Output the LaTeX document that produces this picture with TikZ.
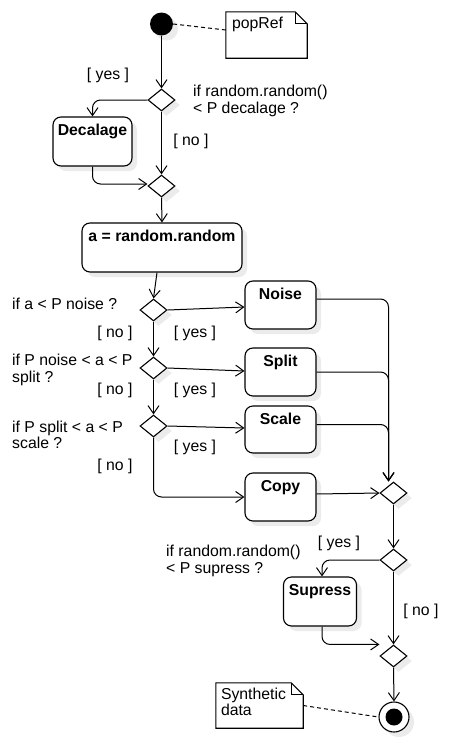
\documentclass[tikz,border=0pt]{standalone}
\usepackage{fontspec}
\setmainfont{Liberation Sans}
\usetikzlibrary{shapes.geometric,arrows.meta,shadows}
\begin{document}
\begin{tikzpicture}[x=1pt,y=-1pt,
  every node/.style={font=\fontsize{15.8}{16.5}\selectfont, text=black},
  shade/.style={drop shadow={shadow xshift=5pt,shadow yshift=-5pt,fill=black!8,opacity=1}},
  actbox/.style={draw, line width=1.1pt, rounded corners=8pt, fill=white, shade, inner sep=0pt},
  boxlabel/.style={anchor=north, yshift=-4pt, font=\fontsize{15.8}{16.5}\selectfont\bfseries},
  dia/.style={diamond, draw, line width=1.1pt, fill=white, shade, inner sep=0pt, minimum width=27pt, minimum height=22pt},
  notebox/.style={inner sep=0pt},
  arr/.style={line width=1pt, -{Straight Barb[length=8pt,width=11pt,line width=1pt]}},
  dashline/.style={line width=1pt, dash pattern=on 4pt off 3pt},
  lab/.style={inner sep=0pt, align=left}
]
\useasboundingbox (0,0) rectangle (448,755);

% start
\node[circle, fill=black, minimum size=23pt, inner sep=0pt, shade] (start) at (161.5,24) {};
% popRef note
\node[notebox, minimum width=81pt, minimum height=46pt] (pop) at (266.5,35) {};
\draw[line width=1.1pt, fill=white] (pop.north west) -- ([xshift=-12pt]pop.north east) -- ([yshift=-12pt]pop.north east) -- (pop.south east) -- (pop.south west) -- cycle;
\draw[line width=1.1pt] ([xshift=-12pt]pop.north east) |- ([yshift=-12pt]pop.north east);
\node[lab, anchor=north west] (poptxt) at ([xshift=6pt,yshift=-5pt]pop.north west) {popRef};

% decisions
\node[dia] (d1) at (161.5,100) {};
\node[dia] (d2) at (161.5,186) {};
\node[dia] (d3) at (153.5,310) {};
\node[dia] (d4) at (153.5,368) {};
\node[dia] (d5) at (153.5,426) {};
\node[dia] (d6) at (393.5,493) {};
\node[dia] (d7) at (393.5,560) {};
\node[dia] (d8) at (393.5,656) {};

% actions
\node[actbox, minimum width=79pt, minimum height=49pt, label={[boxlabel]north:Decalage}] (dec) at (92.5,141.5) {};
\node[actbox, minimum width=160pt, minimum height=49pt, label={[boxlabel]north:a = random.random}] (asg) at (162,247.5) {};
\node[actbox, minimum width=71pt, minimum height=48pt, label={[boxlabel]north:Noise}] (noise) at (280.5,305) {};
\node[actbox, minimum width=71pt, minimum height=48pt, label={[boxlabel]north:Split}] (split) at (280.5,372) {};
\node[actbox, minimum width=71pt, minimum height=47pt, label={[boxlabel]north:Scale}] (scale) at (280.5,429.5) {};
\node[actbox, minimum width=71pt, minimum height=48pt, label={[boxlabel]north:Copy}] (copy) at (280.5,497) {};
\node[actbox, minimum width=73pt, minimum height=49pt, label={[boxlabel]north:Supress}] (sup) at (320,601.5) {};

% end
\node[circle, draw, line width=1.1pt, fill=white, minimum size=30pt, inner sep=0pt, shade] (end) at (394,717) {};
\node[circle, fill=black, minimum size=17pt, inner sep=0pt] (endin) at (end.center) {};

% Synthetic data note
\node[notebox, minimum width=87pt, minimum height=45pt] (syn) at (259.5,705.5) {};
\draw[line width=1.1pt, fill=white] (syn.north west) -- ([xshift=-12pt]syn.north east) -- ([yshift=-12pt]syn.north east) -- (syn.south east) -- (syn.south west) -- cycle;
\draw[line width=1.1pt] ([xshift=-12pt]syn.north east) |- ([yshift=-12pt]syn.north east);
\node[lab, anchor=north west] (syntxt) at ([xshift=5pt,yshift=-5pt]syn.north west) {Synthetic\\data};

% connectors
\draw[dashline] (start.east) -- ([yshift=5pt]pop.west);
\draw[dashline] (syn.east) -- (end.west);
\draw[arr] (start.south) -- (d1.north);
\draw[arr, rounded corners=8pt] (d1.west) -| (dec.north);
\draw[arr] (d1.south) -- (d2.north);
\draw[arr, rounded corners=8pt] (dec.south) |- ([yshift=2pt]d2.west);
\draw[arr] (d2.south) -- (asg.north);
\draw[arr] ([xshift=-5pt]asg.south) -- (d3.north);
\draw[arr] (d3.east) -- ([yshift=-2pt]noise.west);
\draw[arr] (d3.south) -- (d4.north);
\draw[arr] (d4.east) -- ([yshift=1pt]split.west);
\draw[arr] (d4.south) -- (d5.north);
\draw[arr] (d5.east) -- ([yshift=1.5pt]scale.west);
\draw[arr, rounded corners=8pt] (d5.south) |- (copy.west);
\draw[arr] ([yshift=3pt]copy.east) -- (d6.west);
\coordinate (mergein) at ([xshift=-5pt]d6.north);
\draw[arr, rounded corners=8pt] ([yshift=6pt]noise.east) -| (mergein);
\draw[arr, rounded corners=8pt] (split.east) -| (mergein);
\draw[arr, rounded corners=8pt] ([yshift=5pt]scale.east) -| (mergein);
\draw[arr] (d6.south) -- (d7.north);
\draw[arr, rounded corners=8pt] (d7.west) -| ([xshift=2pt]sup.north);
\draw[arr] (d7.south) -- (d8.north);
\draw[arr, rounded corners=8pt] ([xshift=2pt]sup.south) |- (d8.west |- d8.north);
\draw[arr] (d8.south) -- (end.north);

% guard / condition labels
\node[lab] (l1) at (108,75) {[ yes ]};
\node[lab, anchor=west] (c1) at (193,101) {if random.random()\\< P decalage ?};
\node[lab] (l2) at (191,141) {[ no ]};
\node[lab, anchor=west] (c3) at (12,304) {if a < P noise ?};
\node[lab] (l3) at (115,333) {[ no ]};
\node[lab] (l4) at (195,333) {[ yes ]};
\node[lab, anchor=west] (c4) at (12,370) {if P noise < a < P\\split ?};
\node[lab] (l5) at (115,390) {[ no ]};
\node[lab] (l6) at (195,390) {[ yes ]};
\node[lab, anchor=west] (c5) at (12,435) {if P split < a < P\\scale ?};
\node[lab] (l7) at (195,447) {[ yes ]};
\node[lab] (l8) at (115,466) {[ no ]};
\node[lab] (l9) at (339,543) {[ yes ]};
\node[lab, anchor=west] (c7) at (166,561) {if random.random()\\< P supress ?};
\node[lab] (l10) at (421,611) {[ no ]};
\end{tikzpicture}
\end{document}
